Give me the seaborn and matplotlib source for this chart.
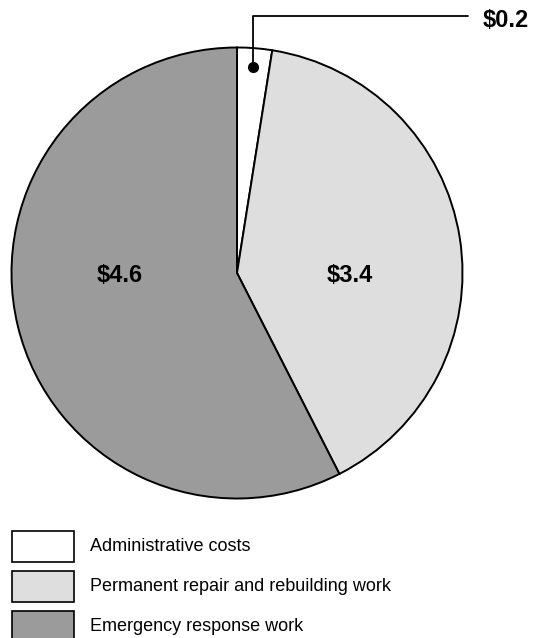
import seaborn as sns
import matplotlib.pyplot as plt
from matplotlib.patches import Rectangle

# categories, dollar amounts (billions) and wedge shares
categories = ["Administrative costs", "Permanent repair and rebuilding work", "Emergency response work"]
amounts = [0.2, 3.4, 4.6]
shares = [2.5, 40.0, 57.5]
slice_colors = ["#FFFFFF", "#DEDEDE", "#9B9B9B"]

sns.set_theme(style="white")
plt.rcParams['font.family'] = ['Liberation Sans', 'DejaVu Sans']
plt.rcParams['text.color'] = 'black'

W, H = 533, 638
fig = plt.figure(figsize=(W / 100, H / 100), dpi=100)
fig.patch.set_facecolor("white")

# pie axes: centre (237, 273) px, radius 225.5 px
cx, cy, r = 237, 273, 225.5
ax = fig.add_axes([(cx - r) / W, (H - cy - r) / H, 2 * r / W, 2 * r / H])
ax.pie(shares, colors=slice_colors, startangle=90, counterclock=False,
       wedgeprops=dict(edgecolor="black", linewidth=1.4))
ax.set_xlim(-1, 1)
ax.set_ylim(-1, 1)
ax.set_aspect("equal")
ax.axis("off")

lab = [f"${a:.1f}" for a in amounts]
ax.text(0.50, -0.01, lab[1], ha="center", va="center", fontsize=17, fontweight="bold")
ax.text(-0.52, -0.01, lab[2], ha="center", va="center", fontsize=17, fontweight="bold")

# leader for the small slice
ax.plot([0.071], [0.914], "o", color="black", markersize=7, clip_on=False)
ax.plot([0.071, 0.071, 1.026], [0.914, 1.14, 1.14], color="black", lw=1.3, clip_on=False)
ax.text(1.09, 1.12, lab[0], ha="left", va="center", fontsize=17, fontweight="bold")

# legend swatches
box_w, box_h = 62, 31
tops = [531, 571, 611]
for name, col, top in zip(categories, slice_colors, tops):
    fig.patches.append(Rectangle((12 / W, (H - top - box_h) / H), box_w / W, box_h / H,
                                 transform=fig.transFigure, facecolor=col,
                                 edgecolor="black", linewidth=1.2))
    fig.text(90 / W, (H - top - box_h / 2) / H, name, ha="left", va="center", fontsize=13)

fig.savefig("out.png", dpi=100)
